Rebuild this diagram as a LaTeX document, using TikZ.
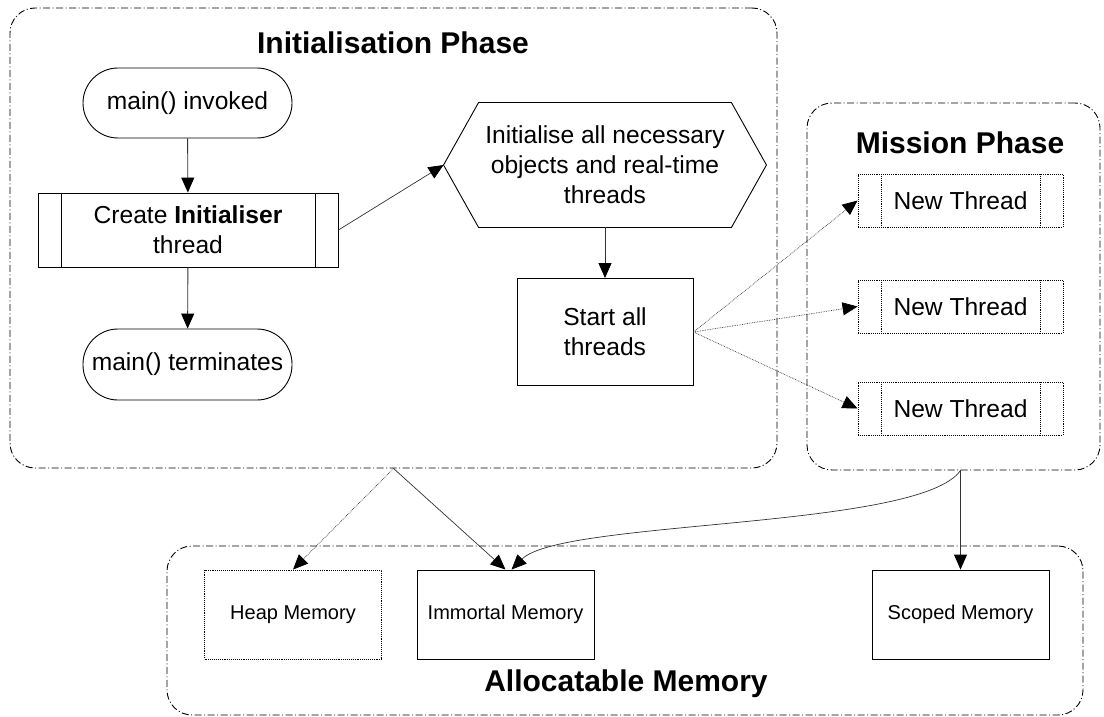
\documentclass[tikz,border=0pt]{standalone}
\usepackage{fontspec}
\setmainfont{Liberation Sans}
\usetikzlibrary{arrows.meta}

\tikzset{
  phase/.style={draw=black, dash pattern=on 7pt off 2.5pt on 1pt off 2.5pt, rounded corners=25pt},
  phasetitle/.style={font=\fontsize{30}{34}\selectfont\bfseries},
  txt/.style={font=\fontsize{24.6}{30}\selectfont, align=center, inner sep=0pt},
  terminal/.style={txt, draw, rounded corners=35pt},
  process/.style={txt, draw, path picture={
      \draw[thin] ([xshift=23pt]path picture bounding box.north west) -- ([xshift=23pt]path picture bounding box.south west);
      \draw[thin] ([xshift=-23pt]path picture bounding box.north east) -- ([xshift=-23pt]path picture bounding box.south east);}},
  memory/.style={draw, font=\fontsize{20}{24}\selectfont, inner sep=0pt, minimum width=177pt, minimum height=89pt},
  flow/.style={draw=black!80, -{Triangle[length=15pt,width=13pt,fill=black,color=black]}},
}

\begin{document}
\begin{tikzpicture}[x=1pt, y=-1pt, line width=0.9pt]
\useasboundingbox (0,0) rectangle (1104,717);

% containers
\node[phase, minimum width=767pt, minimum height=460pt] (initphase) at (393.5,238) {};
\node[phasetitle] (inittitle) at (393,43) {Initialisation Phase};
\node[phase, minimum width=293pt, minimum height=367pt] (missionphase) at (953.5,286.5) {};
\node[phasetitle] (missiontitle) at (960,143) {Mission Phase};
\node[phase, minimum width=916pt, minimum height=169pt] (memphase) at (625,630.5) {};
\node[phasetitle] (memtitle) at (626,684) {Allocatable Memory};

% initialisation phase
\node[terminal, minimum width=209pt, minimum height=70pt] (invoked) at (187.5,103) {main() invoked};
\node[process, minimum width=300pt, minimum height=74pt] (create) at (188,230) {Create \textbf{Initialiser}\\thread};
\node[terminal, minimum width=209pt, minimum height=71pt] (terminates) at (187.5,364.5) {main() terminates};
\node[txt, minimum width=322pt, minimum height=124pt] (initall) at (605,165) {Initialise all necessary\\objects and real-time\\threads};
\draw (initall.west) -- ([xshift=35pt]initall.north west) -- ([xshift=-35pt]initall.north east) -- (initall.east)
  -- ([xshift=-35pt]initall.south east) -- ([xshift=35pt]initall.south west) -- cycle;
\node[txt, draw, minimum width=176pt, minimum height=107pt] (start) at (605,332) {Start all\\threads};

% mission phase
\foreach \y/\n in {200.5/t1, 306.5/t2, 408.5/t3}
  \node[process, densely dotted, minimum width=205pt, minimum height=53pt] (\n) at (960.5,\y) {New Thread};

% memory
\node[memory, densely dotted] (heap) at (293,614.5) {Heap Memory};
\node[memory] (immortal) at (505.5,614.5) {Immortal Memory};
\node[memory] (scoped) at (960.5,614.5) {Scoped Memory};

% connectors
\draw[flow] (invoked) -- (create);
\draw[flow] (create) -- (terminates);
\draw[flow, line width=0.7pt] (create.east) -- (initall.west);
\draw[flow] (initall) -- (start);
\foreach \n in {t1, t2, t3}
  \draw[flow, densely dotted, line width=0.7pt] (start.east) -- (\n.west);
\draw[flow, densely dotted, line width=0.7pt] (initphase.south) -- (heap.north);
\draw[flow, line width=0.7pt] (initphase.south) -- (immortal.north);
\draw[flow] (scoped.north |- missionphase.south) -- (scoped.north);
\draw[flow, line width=0.7pt] (scoped.north |- missionphase.south) .. controls +(-41,59) and +(50,-50) .. ([xshift=6pt]immortal.north);
\end{tikzpicture}
\end{document}
